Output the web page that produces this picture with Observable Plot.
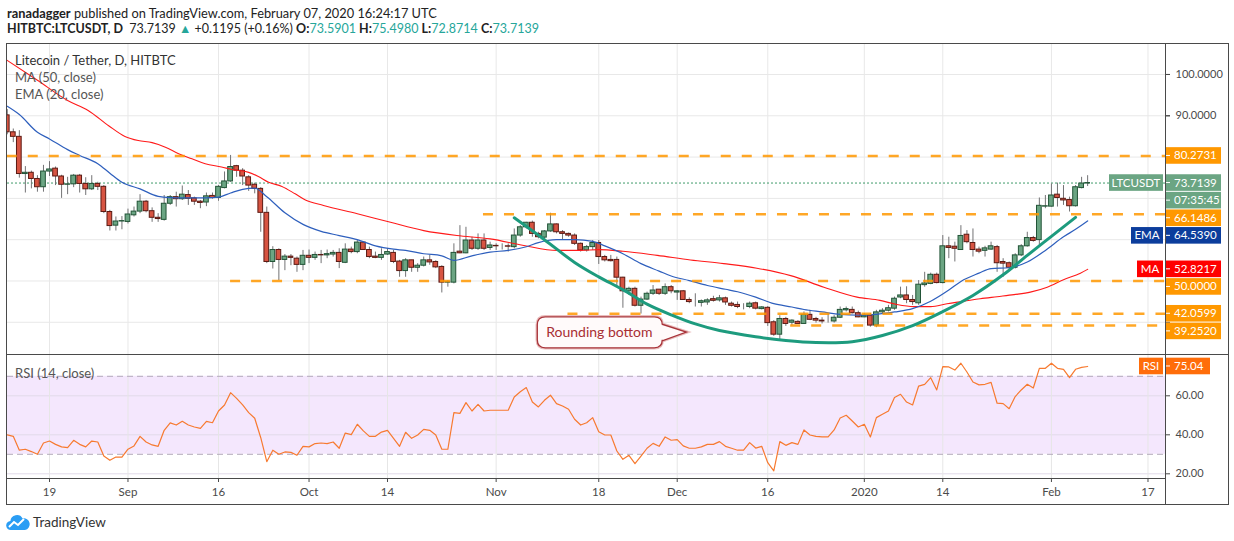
<!DOCTYPE html>
<html><head><meta charset="utf-8">
<script src="https://cdn.jsdelivr.net/npm/d3@7"></script>
<script src="https://cdn.jsdelivr.net/npm/@observablehq/plot@0.6"></script>
<style>
body{margin:0;width:1234px;height:541px;background:#fff;font-family:Lato,"Noto Sans",sans-serif;position:relative;overflow:hidden;color:#222}
.abs{position:absolute}
.hdr{left:7px;line-height:16px;white-space:nowrap;color:#222}
.teal{color:#26a69a}
.ln{position:absolute;background:#4a4a4a}
.leg{position:absolute;left:15px;font-size:13px;line-height:16px;color:#555;white-space:nowrap}
</style></head><body>
<div class="abs hdr" style="top:5px;font-size:12.8px"><b>ranadagger</b> published on TradingView.com, February 07, 2020 16:24:17 UTC</div>
<div class="abs hdr" style="top:21px;font-size:12.5px"><b>HITBTC:LTCUSDT, D</b>&nbsp; 73.7139 <span class="teal">▲</span> +0.1195 (+0.16%) <b>O:</b><span class="teal">73.5901</span> <b>H:</b><span class="teal">75.4980</span> <b>L:</b><span class="teal">72.8714</span> <b>C:</b><span class="teal">73.7139</span></div>
<div id="price" class="abs" style="left:7px;top:44px"></div>
<div id="rsi" class="abs" style="left:7px;top:354px"></div>
<div class="ln" style="left:6px;top:43px;width:1223px;height:1px"></div>
<div class="ln" style="left:6px;top:43px;width:1px;height:462px"></div>
<div class="ln" style="left:1228px;top:43px;width:1px;height:462px"></div>
<div class="ln" style="left:1165px;top:43px;width:1px;height:462px"></div>
<div class="ln" style="left:6px;top:354px;width:1223px;height:1px"></div>
<div class="ln" style="left:6px;top:478px;width:1160px;height:1px"></div>
<div class="ln" style="left:6px;top:504px;width:1223px;height:1px"></div>
<div class="leg" style="top:52px;color:#333">Litecoin / Tether, D, HITBTC</div>
<div class="leg" style="top:69px">MA (50, close)</div>
<div class="leg" style="top:86px">EMA (20, close)</div>
<div class="leg" style="top:365px">RSI (14, close)</div>
<div class="abs" style="left:6px;top:513px">
<svg width="24" height="18" viewBox="0 0 24 18"><path d="M5 17a4.5 4.5 0 0 1-.6-9 6.5 6.5 0 0 1 12.2-2.5A5.5 5.5 0 0 1 19 17z" fill="#2a9df4"/><path d="M3 14l5-5 4 3 6-6" stroke="#fff" stroke-width="2" fill="none"/></svg>
</div>
<div class="abs" style="left:33px;top:514px;font-size:13.5px;line-height:16px;color:#333">TradingView</div>
<script>
// ---------------- data ----------------
const firstDay = "2019-08-12";
const open = [90.1,86.0,84.9,75.9,76.2,74.7,72.7,76.5,77.2,75.3,
73.3,73.4,75.5,73.5,72.2,73.5,72.8,66.7,63.4,64.4,
64.3,65.9,66.8,69.2,66.9,65.3,64.8,68.7,70.3,69.8,
70.8,70.0,69.2,69.0,70.6,70.1,72.5,74.1,77.8,76.7,
75.1,73.3,72.3,66.5,54.6,57.5,55.1,55.9,55.4,53.9,
56.1,55.6,56.3,56.2,56.4,56.8,54.4,57.6,57.0,59.3,
57.5,55.9,55.6,56.4,56.8,54.7,52.4,55.0,53.2,53.7,
55.0,54.6,53.4,49.6,49.6,57.1,56.7,59.8,57.8,59.8,
58.0,58.5,58.4,58.4,58.2,61.0,63.0,64.1,61.4,60.5,
62.0,63.7,61.8,61.4,61.0,59.0,57.4,58.2,59.2,55.8,
55.1,55.1,50.8,47.5,48.1,44.0,45.5,46.9,47.9,46.9,
48.5,47.2,47.5,45.4,44.9,44.7,44.8,45.6,45.3,45.8,
44.5,44.2,43.8,43.7,44.6,43.2,43.5,40.0,37.0,40.8,
39.9,40.1,39.6,41.8,40.8,40.4,40.2,40.2,41.1,42.9,
43.0,42.2,41.2,41.6,39.2,42.4,42.8,43.3,46.0,46.5,
45.4,44.6,49.0,49.3,51.5,49.5,58.4,58.3,57.5,61.2,
59.2,57.6,57.3,57.6,58.2,54.6,54.3,53.2,56.2,58.4,
60.4,59.9,68.0,68.0,70.9,69.9,69.6,68.1,72.5,73.5901];
const high = [91.5,86.8,86.4,77.7,76.6,75.5,78.0,78.9,77.6,75.6,
75.1,75.8,75.8,75.0,75.5,73.9,73.1,67.1,65.5,65.6,
67.4,67.9,70.9,69.5,67.7,66.3,70.7,70.7,71.5,73.0,
71.9,70.3,69.5,71.3,71.3,73.1,76.4,80.4,78.0,77.2,
75.5,73.7,72.6,67.9,58.3,57.8,56.4,56.4,55.8,57.4,
57.5,57.0,57.4,57.5,57.4,57.8,59.0,58.2,59.8,59.4,
58.2,57.0,57.8,57.8,57.4,55.0,55.4,55.0,54.2,55.8,
56.2,54.9,53.7,50.1,59.0,63.4,63.0,60.6,61.4,61.4,
59.4,59.0,59.0,59.0,62.6,63.4,64.2,64.5,61.8,62.2,
66.4,63.8,62.2,61.6,61.4,59.2,58.6,59.8,59.8,56.2,
56.2,55.8,50.9,48.5,48.5,46.1,47.3,48.9,47.9,49.3,
48.9,47.7,47.7,45.9,46.9,45.4,45.7,46.3,46.5,46.1,
44.9,44.9,44.5,44.9,44.9,43.8,43.8,40.4,41.6,41.2,
40.6,40.4,42.5,42.9,41.2,41.1,42.1,41.6,43.7,43.7,
43.7,42.7,42.1,42.1,42.9,43.3,44.1,46.1,48.5,48.6,
46.5,50.1,52.1,51.9,51.9,61.0,60.6,59.4,63.4,62.2,
62.6,58.2,58.4,59.4,58.6,55.4,54.6,56.6,58.8,61.8,
60.8,70.1,70.7,73.5,73.7,73.1,70.3,73.1,75.1,75.4980];
const low = [85.4,83.5,74.9,71.3,72.3,71.5,71.5,75.3,73.1,70.0,
70.9,72.6,71.3,70.7,71.9,71.9,66.3,62.1,62.1,62.4,
63.8,65.5,66.3,66.5,64.2,64.2,64.5,68.3,67.9,69.5,
68.3,68.3,67.5,68.0,69.8,69.3,72.3,73.9,75.1,73.1,
71.7,71.1,61.8,54.2,52.9,50.1,52.5,53.7,52.1,52.5,
54.2,55.0,54.2,55.4,55.8,53.0,54.2,56.6,56.6,57.4,
55.4,55.4,55.0,56.2,54.2,50.9,50.9,52.1,52.1,53.4,
53.8,53.0,47.1,48.5,49.3,56.6,56.6,57.4,57.4,57.4,
57.4,57.4,57.5,57.0,57.8,60.6,62.6,60.6,60.2,60.2,
61.8,61.4,59.8,60.6,58.6,57.0,57.0,57.4,54.0,54.6,
54.6,48.5,43.4,46.5,43.7,42.0,45.3,46.5,46.5,46.5,
46.9,45.3,45.3,44.5,43.7,43.7,44.1,44.9,44.9,44.1,
43.7,43.3,43.0,43.3,43.0,43.0,39.0,36.6,35.8,39.0,
39.2,39.5,39.5,40.4,39.8,39.6,39.8,39.8,40.9,42.5,
42.0,41.1,41.1,38.8,38.7,42.1,42.5,42.9,45.7,44.5,
44.1,44.1,48.5,49.1,49.3,49.3,55.4,54.6,57.4,59.0,
55.8,56.6,55.8,57.4,52.1,50.9,52.7,52.9,55.9,58.2,
59.4,58.2,67.5,67.9,67.9,68.3,66.7,67.9,72.3,72.8714];
const close = [86.0,84.9,75.9,76.2,74.7,72.7,76.5,77.0,75.3,73.3,
73.4,75.5,73.5,72.2,73.5,72.8,66.7,63.3,64.4,64.5,
66.1,66.8,69.2,66.9,65.3,65.0,68.7,70.3,69.8,70.9,
69.9,69.2,68.9,70.5,70.1,72.8,74.1,77.6,76.7,75.3,
73.1,72.3,66.5,54.6,57.5,55.1,55.9,55.6,53.9,56.1,
55.6,56.3,56.2,56.5,56.8,54.6,57.6,57.0,59.3,57.5,
55.8,55.6,56.3,57.0,54.6,52.4,55.0,53.2,53.7,55.0,
54.5,53.3,49.6,49.7,56.8,56.7,59.8,57.8,59.8,57.8,
58.6,58.4,58.4,58.3,61.0,63.0,64.1,61.4,60.6,62.0,
63.7,61.8,61.4,61.0,59.0,57.4,58.2,59.2,55.8,55.0,
54.8,50.8,47.5,48.1,44.0,45.5,46.9,47.7,46.9,48.5,
47.5,47.5,45.4,44.9,44.9,45.1,45.3,45.2,45.8,44.8,
44.0,43.7,43.8,44.5,43.3,43.6,39.8,37.0,40.8,39.6,
40.4,39.6,41.8,40.6,40.4,40.2,40.2,41.1,43.0,43.2,
42.2,41.2,41.6,39.2,42.4,42.8,43.4,45.7,46.5,45.4,
44.9,49.1,49.4,51.5,49.5,58.4,58.0,57.8,60.9,59.4,
57.5,57.1,57.9,58.4,54.3,54.2,53.2,56.2,58.4,60.4,
59.7,68.2,68.1,70.7,70.1,69.5,68.1,72.7,73.5901,73.7139];
const rsiValues = [40.0,39.2,32.1,32.6,31.4,30.0,35.8,36.8,35.1,33.8,
33.4,37.2,35.1,33.8,36.8,36.3,29.1,26.9,28.6,28.6,
32.6,34.3,39.2,36.3,34.8,34.1,42.3,46.1,45.0,46.9,
45.0,44.0,43.3,46.9,46.2,52.2,55.3,61.6,58.7,55.3,
51.4,48.5,38.5,26.2,32.1,30.0,31.2,31.0,29.5,34.1,
33.8,35.5,35.8,35.5,36.3,33.1,40.9,40.1,45.4,42.0,
39.2,39.2,41.4,42.3,38.2,34.1,41.3,38.2,39.9,42.8,
42.3,39.9,32.6,32.6,51.4,51.0,56.5,52.2,55.6,52.2,
52.6,52.6,52.6,52.6,59.4,62.1,64.2,56.8,54.3,57.7,
60.3,56.0,54.8,53.1,48.0,45.0,46.2,48.8,41.6,39.9,
39.9,31.7,27.4,29.5,25.2,29.1,33.1,35.6,34.1,38.9,
37.2,37.5,34.3,33.1,33.1,33.8,35.1,35.1,36.5,34.1,
33.1,32.1,32.1,36.0,33.2,34.1,25.7,21.5,36.5,34.6,
36.0,35.1,42.5,39.9,39.2,38.9,38.9,42.5,48.6,50.0,
47.1,44.0,45.4,38.9,48.8,50.5,52.2,59.1,60.8,56.8,
55.3,65.0,65.9,69.3,63.0,75.0,74.8,73.2,76.7,72.2,
67.1,65.6,65.9,66.9,56.2,56.0,53.4,59.6,63.0,65.9,
64.0,74.1,74.1,76.7,74.1,73.6,69.3,73.6,74.6,75.04];
// moving averages (day index from firstDay, value)
const maDay   = [0,5,10,13.4,16.8,19.5,21.7,24,26.2,28.4,30.6,32.8,35.5,37.2,40,41.6,43.3,45.5,47.7,49.4,52.4,58,63.5,69,74.5,80,85.6,91.1,95,98,102,107.7,113.2,118.7,124.2,129.8,135.3,140.8,144.6,147.4,150.2,153,155.7,158.5,161.2,164,166.8,169.5,172.3,175,177.8,179];
const maValue = [103.4,98.6,93.7,91.3,87.6,85.0,84.0,83.5,82.4,80.8,79.6,78.4,77.6,77.0,76.3,75.3,73.9,72.9,71.1,69.6,68.3,66.3,64.2,62.2,61.0,60.2,58.6,57.4,57.4,57.6,57.2,56.2,55.1,54.2,53.1,51.3,48.5,46.1,45.3,44.3,43.8,43.8,44.5,45.1,45.7,46.2,46.7,47.3,48.5,50.3,51.9,52.8217];
const emaDay   = [0,2,5,7,10,12,15,17,19,22,25,27,30,33,35,37,39,41,43,46,49,52,55,58,61,64,66,69,72,74,77,80,83,86,88,91,94,97,99,102,105,108,110,113,116,119,121,124,127,130,132,135,138,141,144,147,150,153,156,158,161,163,166,169,172,175,177,179];
const emaValue = [92.3,90.3,86.0,84.4,81.8,80.4,78.4,76.1,73.9,72.3,70.5,70.2,70.1,70.1,70.3,71.3,72.2,72.5,70.4,66.5,63.7,62.0,61.0,60.0,58.5,57.7,57.4,56.6,56.1,55.0,56.1,57.0,57.4,58.3,59.3,60.0,60.0,59.6,58.5,56.6,54.2,52.4,51.2,50.1,48.9,48.0,47.4,46.1,44.5,43.7,43.1,42.5,41.9,41.7,41.9,42.5,43.3,45.1,47.8,49.9,51.9,53.0,53.2,54.6,57.4,60.7,62.5,64.539];
const tickDays   = ["2019-08-19","2019-09-01","2019-09-16","2019-10-01","2019-10-14","2019-11-01","2019-11-18","2019-12-01","2019-12-16","2020-01-01","2020-01-14","2020-02-01","2020-02-17"];
const tickLabels = ["19","Sep","16","Oct","14","Nov","18","Dec","16","2020","14","Feb","17"];
const priceGrid = [40,50,60,70,80,90,100];
const priceTickLabels = [90,100];
const rsiTicks = [20,40,60];
// horizontal drawings: level and the day it starts on
const levelValues   = [80.2731,66.1486,50.0000,42.0599,39.2520];
const levelStartDay = [0,78.9,37,92.9,129.8];
// rounding-bottom arc drawn on the chart (day index, price)
const arcDay   = [84,89,94,98,102,106,110,114,118,124,129,134,140,145,150,155,160,165,169,173,177];
const arcPrice = [65.3,60.0,54.5,51.0,47.9,44.4,41.8,39.6,38.0,36.5,35.6,35.1,35.3,36.8,39.2,42.6,46.5,51.5,56.2,60.8,65.4];
// price-axis labels
const tagValues = [80.2731,73.7139,66.1486,64.5390,52.8217,50.0000,42.0599,39.2520];
const tagNames  = ["","LTCUSDT","","EMA","MA","","",""];
const rsiLast = 75.04;
const countdown = "07:35:45";

// ---------------- build ----------------
const DAY = 864e5;
const t0 = Date.parse(firstDay + "T00:00:00Z");
const t = k => new Date(t0 + k * DAY);
const candles = open.map((o, i) => ({date: t(i), open: o, high: high[i], low: low[i], close: close[i], up: close[i] >= o}));
const ma = maDay.map((k, i) => ({date: t(k), v: maValue[i]}));
const ema = emaDay.map((k, i) => ({date: t(k), v: emaValue[i]}));
const rsi = rsiValues.map((v, i) => ({date: t(i), v}));
const ticks = tickDays.map(d => new Date(d + "T00:00:00Z"));
const tickMap = new Map(ticks.map((d, i) => [+d, tickLabels[i]]));
const xDomain = [t(0.04), t(191.9)];
const levels = levelValues.map((v, i) => ({value: v, start: t(levelStartDay[i]), end: xDomain[1]}));
const arc = arcDay.map((k, i) => ({date: t(k), v: arcPrice[i]}));
const calloutText = [{date: t(98.1), v: 37.5, label: "Rounding bottom"}];

const W = 1221, MR = 63;
const font = {fontFamily: "Lato, sans-serif", fontSize: "11px", color: "#4a4a4a", background: "#fff"};
const half = 0.39 * DAY;

const price = Plot.plot({
  width: W, height: 310, marginLeft: 0, marginRight: MR, marginTop: 0, marginBottom: 0,
  style: font,
  x: {type: "utc", domain: xDomain, axis: null},
  y: {domain: [32.2, 107.26], label: null},
  color: {type: "identity"},
  marks: [
    Plot.ruleY(priceGrid, {stroke: "#e8e8e8"}),
    Plot.ruleX(ticks, {stroke: "#e8e8e8"}),
    Plot.axisY(priceGrid, {anchor: "right", tickFormat: () => "", tickSize: 4, label: null, color: "#4a4a4a"}),
    Plot.axisY(priceTickLabels, {anchor: "right", tickFormat: d => d.toFixed(4), tickSize: 4, tickPadding: 6, label: null, color: "#4a4a4a", fontSize: 11}),
    Plot.ruleY([73.7139], {stroke: "#3f9a6a", strokeDasharray: "2,2"}),
    Plot.ruleX(candles, {x: "date", y1: "low", y2: "high", stroke: "#737375", clip: true}),
    Plot.rect(candles, {x1: d => new Date(+d.date - half), x2: d => new Date(+d.date + half), y1: "open", y2: "close",
      fill: d => d.up ? "#6ba583" : "#d75442", stroke: d => d.up ? "#225437" : "#5b1a13", strokeWidth: 1, clip: true}),
    Plot.line(ma, {x: "date", y: "v", stroke: "#ff1a1a", strokeWidth: 1.1, curve: "monotone-x", clip: true}),
    Plot.line(ema, {x: "date", y: "v", stroke: "#2e5fbd", strokeWidth: 1.2, curve: "monotone-x", clip: true}),
    Plot.ruleY(levels, {y: "value", x1: "start", x2: "end", stroke: "#ff9800", strokeOpacity: 0.85, strokeWidth: 2.5, strokeDasharray: "10,11"}),
    Plot.line(arc, {x: "date", y: "v", stroke: "#1d9b7e", strokeWidth: 3, curve: "catmull-rom"}),
    Plot.text(calloutText, {x: "date", y: "v", text: "label", fill: "#a82e33", fontSize: 14, fontFamily: "Lato, sans-serif"})
  ]
});
document.getElementById("price").appendChild(price);

const rsiPlot = Plot.plot({
  width: W, height: 150, marginLeft: 0, marginRight: MR, marginTop: 1, marginBottom: 26,
  style: font,
  x: {type: "utc", domain: xDomain, label: null},
  y: {domain: [17.59, 80.67], label: null},
  marks: [
    Plot.rect([0], {x1: () => xDomain[0], x2: () => xDomain[1], y1: () => 30, y2: () => 70, fill: "#f4e7fd"}),
    Plot.ruleY(rsiTicks, {stroke: "#e2dbe9"}),
    Plot.ruleX(ticks, {stroke: "#e6e6e6"}),
    Plot.ruleY([30, 70], {stroke: "#b3abbb", strokeDasharray: "6,4"}),
    Plot.line(rsi, {x: "date", y: "v", stroke: "#f77a30", strokeWidth: 1.2, clip: true}),
    Plot.axisX(ticks, {tickFormat: d => tickMap.get(+d), tickSize: 4, tickPadding: 5, label: null, color: "#4a4a4a", fontSize: 11.5}),
    Plot.axisY(rsiTicks, {anchor: "right", tickFormat: d => d.toFixed(2), tickSize: 4, tickPadding: 6, label: null, color: "#4a4a4a", fontSize: 11})
  ]
});
document.getElementById("rsi").appendChild(rsiPlot);

// ---------- callout box (placed through the chart's scales) ----------
(function () {
  const xs = price.scale("x"), ys = price.scale("y");
  const X = k => xs.apply(t(k)), Y = p => ys.apply(p);
  const x0 = X(87.9), x1 = X(108.6), y0 = Y(41.2), y1 = Y(33.7);
  const tx = X(112.6), ty = Y(37.5), ya = Y(39.4), yb = Y(35.4), r = 8;
  const d = `M${x0 + r},${y0}H${x1 - r}Q${x1},${y0} ${x1},${y0 + r}V${ya}L${tx},${ty}L${x1},${yb}V${y1 - r}Q${x1},${y1} ${x1 - r},${y1}H${x0 + r}Q${x0},${y1} ${x0},${y1 - r}V${y0 + r}Q${x0},${y0} ${x0 + r},${y0}Z`;
  const svg = d3.select(price);
  svg.append("path").attr("d", d).attr("fill", "none").attr("stroke", "#e9bcbc").attr("stroke-width", 3.5);
  svg.append("path").attr("d", d).attr("fill", "#fffafa").attr("stroke", "#a8343a").attr("stroke-width", 1.3);
  const txt = price.querySelector('g[aria-label="text"]');
  if (txt) price.appendChild(txt);
})();

// ---------- price-scale tags ----------
const tagStyle = {
  "80.2731": "#ff9800", "73.7139": "#6ba583", "66.1486": "#ff9800", "64.5390": "#0c3d9c",
  "52.8217": "#ff0000", "50.0000": "#ff9800", "42.0599": "#ff9800", "39.2520": "#ff9800"
};
function drawTag(svg, top, h, fill, label, name, nameW, valueW) {
  const vx = W - MR + 1;
  const g = svg.append("g");
  g.append("rect").attr("x", vx).attr("y", top).attr("width", valueW).attr("height", h).attr("fill", fill);
  g.append("line").attr("x1", vx).attr("x2", vx + 4).attr("y1", top + h / 2).attr("y2", top + h / 2).attr("stroke", "#fff");
  g.append("text").attr("x", vx + 8).attr("y", top + h / 2).attr("dy", "0.35em").attr("fill", "#fff")
    .attr("text-anchor", "start").attr("font-family", "Lato, sans-serif").attr("font-size", 11.5).text(label);
  if (name) {
    g.append("rect").attr("x", vx - 3 - nameW).attr("y", top).attr("width", nameW).attr("height", h).attr("fill", fill);
    g.append("text").attr("x", vx - 3 - nameW / 2).attr("y", top + h / 2).attr("dy", "0.35em").attr("text-anchor", "middle")
      .attr("fill", "#fff").attr("font-family", "Lato, sans-serif").attr("font-size", 11.5).text(name);
  }
}
(function () {
  const ys = price.scale("y");
  const svg = d3.select(price);
  const h = 16.6, nameW = {LTCUSDT: 54, EMA: 32, MA: 26};
  let prevBottom = -Infinity;
  tagValues.forEach((v, i) => {
    const label = v.toFixed(4);
    let top = ys.apply(v) - h / 2;
    if (top < prevBottom + 1) top = prevBottom + 1;
    drawTag(svg, top, h, tagStyle[label], label, tagNames[i], nameW[tagNames[i]], 55);
    prevBottom = top + h;
    if (tagNames[i] === "LTCUSDT") {
      drawTag(svg, prevBottom + 1, h, "#6ba583", countdown, "", 0, 55);
      prevBottom += h + 1;
    }
  });
  const yr = rsiPlot.scale("y");
  drawTag(d3.select(rsiPlot), yr.apply(rsiLast) - h / 2, h, "#ff6d0a", rsiLast.toFixed(2), "RSI", 24, 44);
})();
</script>
</body></html>
